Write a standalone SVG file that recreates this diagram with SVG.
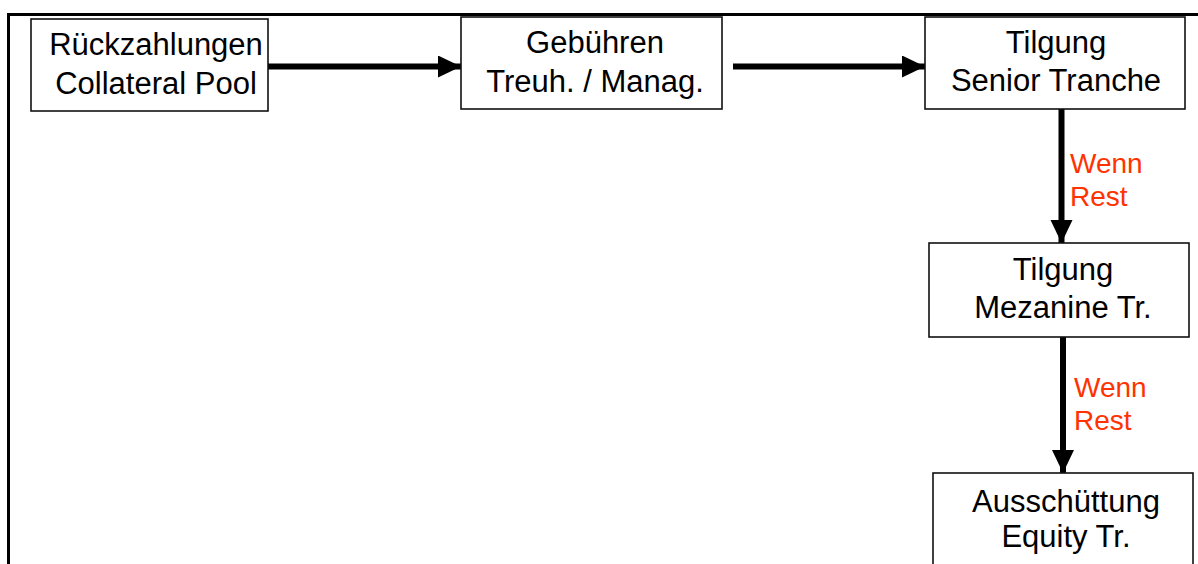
<svg xmlns="http://www.w3.org/2000/svg" width="1198" height="564" viewBox="0 0 1198 564">
<style>
.box{fill:#fff;stroke:#111;stroke-width:1.6}
.t{font-family:"Liberation Sans",Arial,sans-serif;font-size:31px;fill:#000;text-anchor:middle}
.l{font-family:"Liberation Sans",Arial,sans-serif;font-size:28px;fill:#FF3300}
.c{stroke:#000;stroke-width:6;fill:none}
</style>
<defs>
<marker id="ah" markerUnits="userSpaceOnUse" markerWidth="24" markerHeight="24" refX="23" refY="11" orient="auto">
<path d="M0,0 L23,11 L0,22 Z" fill="#000"/>
</marker>
</defs>
<rect x="0" y="0" width="1198" height="564" fill="#fff"/>
<path d="M8.5,564 V14.5 H1198" fill="none" stroke="#000" stroke-width="3"/>
<g id="connectors">
<line class="c" x1="268" y1="66.5" x2="461" y2="66.5" marker-end="url(#ah)"/>
<line class="c" x1="733" y1="66.5" x2="925" y2="66.5" marker-end="url(#ah)"/>
<line class="c" x1="1061.5" y1="109" x2="1061.5" y2="243" marker-end="url(#ah)"/>
<line class="c" x1="1063" y1="337" x2="1063" y2="473" marker-end="url(#ah)"/>
<text class="l" x="1070" y="173">Wenn</text>
<text class="l" x="1070" y="206">Rest</text>
<text class="l" x="1074" y="397">Wenn</text>
<text class="l" x="1074" y="430">Rest</text>
</g>
<g id="n1">
<rect class="box" x="31" y="19" width="237" height="92"/>
<text class="t" x="156" y="55">Rückzahlungen</text>
<text class="t" x="156" y="94">Collateral Pool</text>
</g>
<g id="n2">
<rect class="box" x="461" y="17" width="261" height="92"/>
<text class="t" x="595" y="53">Gebühren</text>
<text class="t" x="595" y="92">Treuh. / Manag.</text>
</g>
<g id="n3">
<rect class="box" x="925" y="17" width="260" height="92"/>
<text class="t" x="1056" y="53">Tilgung</text>
<text class="t" x="1056" y="91">Senior Tranche</text>
</g>
<g id="n4">
<rect class="box" x="929" y="243" width="260" height="94"/>
<text class="t" x="1063" y="280">Tilgung</text>
<text class="t" x="1063" y="318">Mezanine Tr.</text>
</g>
<g id="n5">
<rect class="box" x="933" y="473" width="260" height="110"/>
<text class="t" x="1066" y="512">Ausschüttung</text>
<text class="t" x="1066" y="547">Equity Tr.</text>
</g>
</svg>
